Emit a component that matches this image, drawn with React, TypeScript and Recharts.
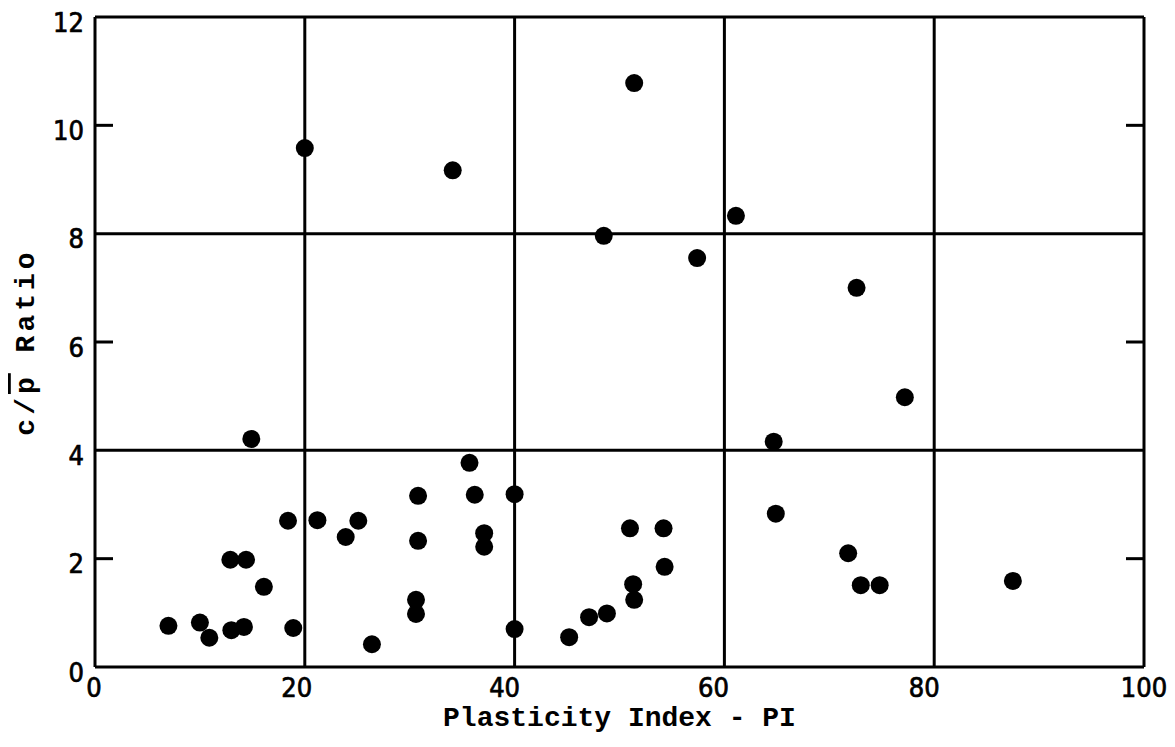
import { ScatterChart, Scatter, XAxis, YAxis, ReferenceLine } from "recharts";

const PI_VALUES = [
  7.0, 10.0, 10.9, 13.0, 14.2, 12.9, 14.4, 16.1, 14.9, 18.4, 18.9, 21.2, 23.9,
  25.1, 26.4, 20.0, 34.1, 30.8, 30.8, 30.6, 30.6, 35.7, 36.2, 37.1, 37.1, 40.0,
  40.0, 45.2, 47.1, 48.8, 51.0, 51.3, 51.4, 54.2, 54.3, 64.7, 64.9, 71.8, 73.0,
  74.8, 87.5, 77.2, 72.6, 57.4, 61.1, 48.5, 51.4,
];

const RATIO_VALUES = [
  0.76, 0.82, 0.54, 0.68, 0.74, 1.98, 1.98, 1.48, 4.21, 2.7, 0.72, 2.71, 2.4,
  2.7, 0.42, 9.58, 9.17, 3.16, 2.33, 1.24, 0.98, 3.77, 3.18, 2.47, 2.22, 3.19,
  0.7, 0.55, 0.92, 0.99, 2.56, 1.53, 1.24, 2.56, 1.85, 4.16, 2.83, 2.1, 1.51,
  1.51, 1.59, 4.98, 7.0, 7.55, 8.33, 7.96, 10.78,
];

const X_TICKS = [0, 20, 40, 60, 80, 100];
const Y_TICKS = [0, 2, 4, 6, 8, 10, 12];
const GRID_X = [20, 40, 60, 80];
const GRID_Y = [4, 8];
const SHORT_TICKS = [2, 6, 10];
// small nudges so the x labels sit like the scanned ones
const X_LABEL_SHIFT: Record<string, number> = { "0": -1, "20": -8, "40": -10, "60": -11, "80": -10, "100": 0 };

const points = PI_VALUES.map((pi, i) => ({ pi, ratio: RATIO_VALUES[i] }));

const TICK_FONT = "'DejaVu Sans Condensed', 'DejaVu Sans', sans-serif";
const TITLE_FONT = "'Liberation Mono', 'DejaVu Sans Mono', monospace";

const LeftTick = (props: any) => (
  <text
    x={Number(props.x) - 11}
    y={Number(props.y) + 5}
    textAnchor="end"
    dominantBaseline="central"
    fontFamily={TICK_FONT}
    fontSize={27}
    fill="#000"
    stroke="#000"
    strokeWidth={0.7}
  >
    {props.payload.value}
  </text>
);

const BottomTick = ({ x, y, payload }: any) => (
  <text
    x={Number(x) + (X_LABEL_SHIFT[String(payload.value)] ?? 0)}
    y={Number(y) + 20}
    textAnchor="middle"
    dominantBaseline="central"
    fontFamily={TICK_FONT}
    fontSize={27}
    fill="#000"
    stroke="#000"
    strokeWidth={0.7}
  >
    {payload.value}
  </text>
);

// inward stubs on both frame sides, taken from the reference line's ends
const StubShape = (p: any) => {
  const x1 = Number(p.x1);
  const x2 = Number(p.x2);
  const y = Number(p.y1);
  const left = Math.min(x1, x2);
  const right = Math.max(x1, x2);
  return (
    <g>
      <line x1={left} y1={y} x2={left + 18} y2={y} stroke="#000" strokeWidth={3} />
      <line x1={right - 18} y1={y} x2={right} y2={y} stroke="#000" strokeWidth={3} />
    </g>
  );
};

const Dot = (props: any) => <circle cx={props.cx} cy={props.cy} r={9} fill="#000" />;

export default function App() {
  return (
    <div style={{ background: "#fff" }}>
      <ScatterChart
        width={1160}
        height={730}
        margin={{ top: 9, right: 24, left: 27, bottom: 11 }}
      >
        <XAxis
          type="number"
          dataKey="pi"
          domain={[0, 100]}
          ticks={X_TICKS}
          allowDataOverflow
          height={60}
          axisLine={{ stroke: "#000", strokeWidth: 3 }}
          tickLine={false}
          tickSize={0}
          tickMargin={0}
          tick={BottomTick}
          label={{
            content: ({ viewBox }: any) => (
              <text
                x={viewBox.x + viewBox.width / 2}
                y={viewBox.y + 51}
                textAnchor="middle"
                dominantBaseline="central"
                fontFamily={TITLE_FONT}
                fontWeight="bold"
                fontSize={28}
                fill="#000"
              >
                Plasticity Index - PI
              </text>
            ),
          }}
        />
        <YAxis
          type="number"
          dataKey="ratio"
          domain={[0, 12]}
          ticks={Y_TICKS}
          allowDataOverflow
          width={60}
          axisLine={{ stroke: "#000", strokeWidth: 3 }}
          tickLine={false}
          tickSize={0}
          tickMargin={0}
          tick={LeftTick}
          label={{
            content: ({ viewBox }: any) => {
              const cx = viewBox.x - 9;
              const cy = viewBox.y + viewBox.height / 2;
              return (
                <text
                  x={cx}
                  y={cy}
                  textAnchor="middle"
                  dominantBaseline="central"
                  transform={`rotate(-90 ${cx} ${cy})`}
                  fontFamily={TITLE_FONT}
                  fontWeight="bold"
                  fontSize={28}
                  letterSpacing={4}
                  fill="#000"
                >
                  c/<tspan textDecoration="overline">p</tspan> Ratio
                </text>
              );
            },
          }}
        />
        {GRID_X.map((v) => (
          <ReferenceLine key={`gx${v}`} x={v} stroke="#000" strokeWidth={3} />
        ))}
        {GRID_Y.map((v) => (
          <ReferenceLine key={`gy${v}`} y={v} stroke="#000" strokeWidth={3} />
        ))}
        {SHORT_TICKS.map((v) => (
          <ReferenceLine key={`st${v}`} y={v} shape={StubShape} />
        ))}
        <ReferenceLine y={12} stroke="#000" strokeWidth={3} />
        <ReferenceLine x={100} stroke="#000" strokeWidth={3} />
        <Scatter
          data={points}
          fill="#000"
          shape={<Dot />}
          isAnimationActive={false}
        />
      </ScatterChart>
    </div>
  );
}
